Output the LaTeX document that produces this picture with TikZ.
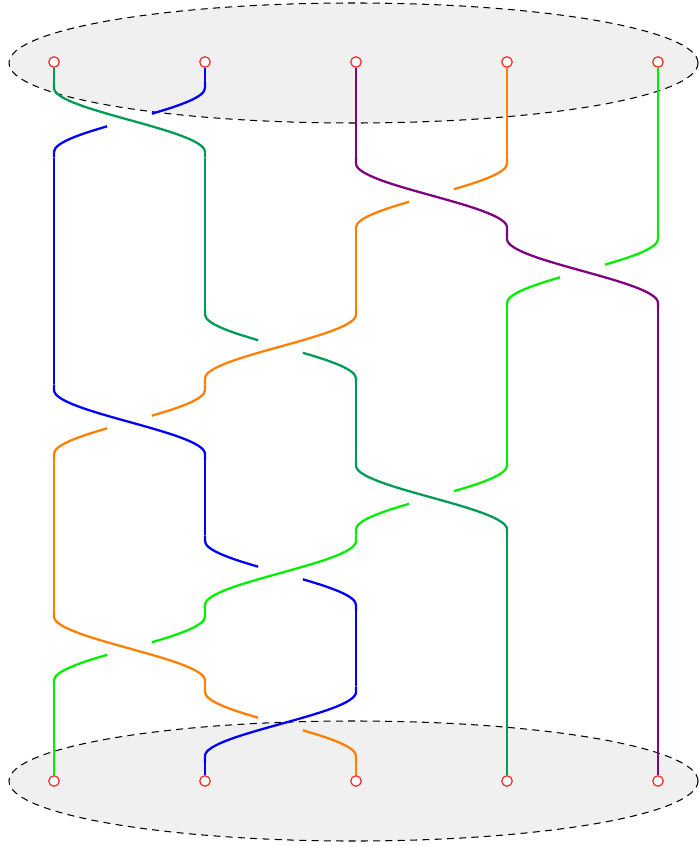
\documentclass[tikz,border=0pt]{standalone}
\definecolor{sgreen}{RGB}{0,155,85}
\definecolor{sblue}{RGB}{0,0,255}
\definecolor{spurple}{RGB}{128,0,128}
\definecolor{sorange}{RGB}{255,128,0}
\definecolor{slime}{RGB}{0,240,0}
\definecolor{sred}{RGB}{255,40,40}

\begin{document}
\begin{tikzpicture}[
  strand/.style={line width=1.3pt},
  disc/.style={fill=black!6,draw=black,line width=.6pt,dash pattern=on 4pt off 3pt},
  station/.style={circle,draw=sred,fill=white,line width=.7pt,inner sep=0pt,minimum size=.21cm}]
  \def\dx{3.02}
  \def\dy{1.51}
  \def\h{1.28}
  \def\ctl{0.44}
  \def\yb{-14.38}
  \useasboundingbox (-1.08,1.24) rectangle (12.90,-15.68);
  % Top and bottom discs holding the ends of the strands.
  \filldraw[disc] (5.99,-0.02) ellipse (6.89 and 1.2);
  \filldraw[disc] (5.99,\yb) ellipse (6.89 and 1.2);
  % End points, and the short straight pieces next to them.
  \foreach \j/\ct/\cb in {1/sgreen/slime,2/sblue/sblue,3/spurple/sorange,4/sorange/sgreen,5/slime/spurple} {
    \pgfmathsetmacro{\x}{(\j-1)*\dx}
    \node[station] (t\j) at (\x,0) {};
    \node[station] (b\j) at (\x,\yb) {};
    \draw[strand,color=\ct] (t\j.south) -- (\x,-0.405);
    \draw[strand,color=\cb] (\x,-0.405-9*\dy) -- (b\j.north);
  }
  % One level per crossing: left position i, over strand (1 = the one from the left),
  % then the colours of the five positions above the level.
  \foreach \k/\i/\ov/\pa/\pb/\pc/\pd/\pe in {
      1/1/1/sgreen/sblue/spurple/sorange/slime,
      2/3/1/sblue/sgreen/spurple/sorange/slime,
      3/4/1/sblue/sgreen/sorange/spurple/slime,
      4/2/0/sblue/sgreen/sorange/slime/spurple,
      5/1/1/sblue/sorange/sgreen/slime/spurple,
      6/3/1/sorange/sblue/sgreen/slime/spurple,
      7/2/0/sorange/sblue/slime/sgreen/spurple,
      8/1/1/sorange/slime/sblue/sgreen/spurple,
      9/2/0/slime/sorange/sblue/sgreen/spurple} {
    \pgfmathsetmacro{\yt}{-0.405-(\k-1)*\dy}
    \pgfmathsetmacro{\ys}{\yt-(\dy-\h)/2}
    \foreach \j/\col in {1/\pa,2/\pb,3/\pc,4/\pd,5/\pe} {
      \pgfmathsetmacro{\x}{(\j-1)*\dx}
      \pgfmathtruncatemacro{\s}{ifthenelse(\j==\i,1,ifthenelse(\j==\i+1,-1,0))}
      \pgfmathtruncatemacro{\up}{ifthenelse(\s==0,2,ifthenelse(\s*(2*\ov-1)>0,1,0))}
      \ifcase\up\relax
        % under strand, broken in the middle
        \draw[strand,color=\col] (\x,\yt) -- (\x,\ys)
          .. controls +(0,-0.4*\ctl) and +({-\s*0.192*\dx},{0.192*\h-0.176*\ctl})
          .. ({\x+\s*0.352*\dx},{\ys-0.144*\ctl-0.352*\h});
        \draw[strand,color=\col] ({\x+\s*\dx},\yt-\dy) -- ({\x+\s*\dx},\ys-\h)
          .. controls +(0,0.4*\ctl) and +({\s*0.192*\dx},{-0.192*\h+0.176*\ctl})
          .. ({\x+\s*0.648*\dx},{\ys-\h+0.144*\ctl+0.352*\h});
      \or
        % over strand
        \draw[strand,color=\col] (\x,\yt) -- (\x,\ys)
          .. controls +(0,-\ctl) and +(0,\ctl) .. ({\x+\s*\dx},\ys-\h)
          -- ({\x+\s*\dx},\yt-\dy);
      \or
        \draw[strand,color=\col] (\x,\yt) -- (\x,\yt-\dy);
      \fi
    }
  }
\end{tikzpicture}
\end{document}
